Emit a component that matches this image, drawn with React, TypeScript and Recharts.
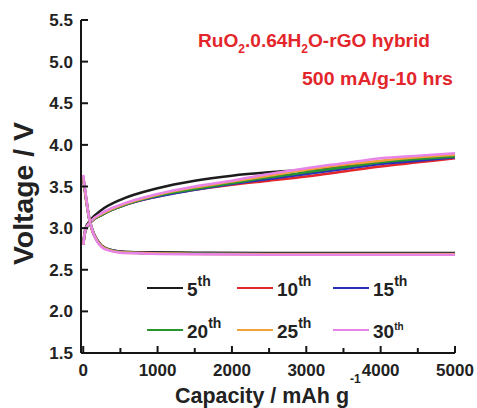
import React from "react";
import { LineChart, Line, XAxis, YAxis, Legend } from "recharts";

// capacity (mAh/g) sample points
const chargeCap = [0, 30, 100, 250, 500, 1000, 1500, 2000, 2500, 3000, 3500, 4000, 4500, 5000];
const dischargeCap = [0, 40, 80, 120, 180, 250, 350, 500, 800, 1500, 2500, 3500, 4500, 5000];

const cycleNames = ["5", "10", "15", "20", "25", "30"];
const cycleColors = ["#1c1c1c", "#e3262b", "#2a2fb8", "#27962e", "#f2a23a", "#e884e8"];

// charge voltages (V)
const charge5 = [2.82, 3.0, 3.1, 3.22, 3.34, 3.48, 3.57, 3.63, 3.67, 3.7, 3.74, 3.79, 3.83, 3.87];
const charge10 = [2.8, 2.97, 3.07, 3.16, 3.26, 3.38, 3.46, 3.52, 3.57, 3.62, 3.68, 3.74, 3.79, 3.84];
const charge15 = [2.8, 2.97, 3.07, 3.16, 3.26, 3.38, 3.46, 3.53, 3.59, 3.65, 3.71, 3.77, 3.81, 3.85];
const charge20 = [2.8, 2.97, 3.07, 3.16, 3.26, 3.39, 3.47, 3.54, 3.61, 3.67, 3.73, 3.79, 3.83, 3.86];
const charge25 = [2.8, 2.98, 3.08, 3.17, 3.27, 3.4, 3.49, 3.56, 3.63, 3.7, 3.76, 3.81, 3.85, 3.88];
const charge30 = [2.8, 2.98, 3.08, 3.18, 3.28, 3.41, 3.5, 3.57, 3.65, 3.72, 3.78, 3.84, 3.87, 3.9];

// discharge voltages (V)
const discharge5 = [3.62, 3.36, 3.13, 2.99, 2.87, 2.79, 2.745, 2.72, 2.71, 2.705, 2.7, 2.7, 2.7, 2.7];
const discharge10 = [3.6, 3.33, 3.11, 2.97, 2.86, 2.78, 2.74, 2.715, 2.7, 2.695, 2.69, 2.69, 2.69, 2.69];
const discharge15 = [3.6, 3.33, 3.11, 2.98, 2.86, 2.78, 2.74, 2.715, 2.7, 2.695, 2.69, 2.69, 2.69, 2.69];
const discharge20 = [3.61, 3.34, 3.12, 2.98, 2.86, 2.78, 2.74, 2.712, 2.7, 2.692, 2.688, 2.688, 2.688, 2.688];
const discharge25 = [3.61, 3.34, 3.12, 2.98, 2.86, 2.78, 2.735, 2.71, 2.7, 2.69, 2.685, 2.685, 2.685, 2.685];
const discharge30 = [3.64, 3.36, 3.12, 2.98, 2.85, 2.77, 2.73, 2.705, 2.695, 2.685, 2.68, 2.68, 2.68, 2.68];

const chargeV = [charge5, charge10, charge15, charge20, charge25, charge30];
const dischargeV = [discharge5, discharge10, discharge15, discharge20, discharge25, discharge30];

const xTicks = [0, 500, 1000, 1500, 2000, 2500, 3000, 3500, 4000, 4500, 5000];
const yTicks = [1.5, 2.0, 2.5, 3.0, 3.5, 4.0, 4.5, 5.0, 5.5];

const toPoints = (caps: number[], vs: number[]) => caps.map((cap, i) => ({ cap, v: vs[i] }));

const FONT = "'Liberation Sans', Arial, sans-serif";
const AXIS = "#151515";

const LeftTick = (props: any) => {
  const { x, y, payload } = props;
  return (
    <g>
      <line x1={x} x2={x + 7} y1={y} y2={y} stroke={AXIS} strokeWidth={2} />
      <text x={x - 8} y={y + 6} textAnchor="end" fontFamily={FONT} fontWeight="bold" fontSize={17} fill="#222">
        {Number(payload.value).toFixed(1)}
      </text>
    </g>
  );
};

const RightTick = (props: any) => {
  const { x, y } = props;
  return <line x1={x} x2={x - 7} y1={y} y2={y} stroke={AXIS} strokeWidth={2} />;
};

const BottomTick = (props: any) => {
  const { x, y, payload } = props;
  const major = payload.value % 1000 === 0;
  return (
    <g>
      <line x1={x} x2={x} y1={y} y2={y - (major ? 7 : 5)} stroke={AXIS} strokeWidth={2} />
      {major && (
        <text x={x} y={y + 23} textAnchor="middle" fontFamily={FONT} fontWeight="bold" fontSize={17} fill="#222">
          {payload.value}
        </text>
      )}
    </g>
  );
};

const TopTick = (props: any) => {
  const { x, y, payload } = props;
  const major = payload.value % 1000 === 0;
  return <line x1={x} x2={x} y1={y} y2={y + (major ? 7 : 5)} stroke={AXIS} strokeWidth={2} />;
};

const legendLeft = [147, 237, 333];
const legendTop = [288, 330];

const renderLegend = () => (
  <div style={{ position: "relative", width: 477, height: 408, pointerEvents: "none" }}>
    {cycleNames.map((name, i) => {
      const col = i % 3;
      const row = Math.floor(i / 3);
      const small = name === "30";
      return (
        <div
          key={name}
          style={{ position: "absolute", left: legendLeft[col], top: legendTop[row] - 14, height: 28, display: "flex", alignItems: "center", fontFamily: FONT, fontWeight: "bold", color: "#222" }}
        >
          <div style={{ width: 36, height: 2.5, background: cycleColors[i], marginRight: 4 }} />
          <span style={{ fontSize: 19, position: "relative", top: 2 }}>{name}</span>
          <span style={{ fontSize: small ? 10 : 14, position: "relative", top: small ? -4 : -7 }}>th</span>
        </div>
      );
    })}
  </div>
);

export default function App() {
  return (
    <div style={{ position: "absolute", left: 0, top: 0, width: 477, height: 408, background: "#fff" }}>
      <LineChart width={477} height={408} margin={{ top: 20, right: 22, bottom: 0, left: 0 }}>
        <XAxis
          xAxisId="b"
          type="number"
          dataKey="cap"
          domain={[-30, 5000]}
          ticks={xTicks}
          interval={0}
          height={55}
          tickSize={0}
          tickMargin={0}
          tickLine={false}
          axisLine={{ stroke: AXIS, strokeWidth: 2 }}
          tick={<BottomTick />}
          allowDataOverflow
        />
        <XAxis
          xAxisId="t"
          orientation="top"
          type="number"
          dataKey="cap"
          domain={[-30, 5000]}
          ticks={xTicks}
          interval={0}
          height={0}
          tickSize={0}
          tickMargin={0}
          tickLine={false}
          axisLine={{ stroke: AXIS, strokeWidth: 2 }}
          tick={<TopTick />}
          allowDataOverflow
        />
        <YAxis
          yAxisId="l"
          type="number"
          domain={[1.5, 5.5]}
          ticks={yTicks}
          interval={0}
          width={81}
          tickSize={0}
          tickMargin={0}
          tickLine={false}
          axisLine={{ stroke: AXIS, strokeWidth: 2 }}
          tick={<LeftTick />}
          allowDataOverflow
        />
        <YAxis
          yAxisId="r"
          orientation="right"
          type="number"
          domain={[1.5, 5.5]}
          ticks={yTicks}
          interval={0}
          width={0}
          tickSize={0}
          tickMargin={0}
          tickLine={false}
          axisLine={{ stroke: AXIS, strokeWidth: 2 }}
          tick={<RightTick />}
          allowDataOverflow
        />
        <Legend
          layout="horizontal"
          verticalAlign="middle"
          align="center"
          content={renderLegend}
          wrapperStyle={{ left: 0, top: 0, width: 477, height: 408 }}
        />
        {cycleNames.map((name, i) => (
          <Line
            key={"c" + name}
            xAxisId="b"
            yAxisId="l"
            data={toPoints(chargeCap, chargeV[i])}
            dataKey="v"
            name={name + "th"}
            type="monotone"
            stroke={cycleColors[i]}
            strokeWidth={2.5}
            dot={false}
            isAnimationActive={false}
          />
        ))}
        {cycleNames.map((name, i) => (
          <Line
            key={"d" + name}
            xAxisId="b"
            yAxisId="l"
            data={toPoints(dischargeCap, dischargeV[i])}
            dataKey="v"
            name={name + "th discharge"}
            legendType="none"
            type="monotone"
            stroke={cycleColors[i]}
            strokeWidth={2.5}
            dot={false}
            isAnimationActive={false}
          />
        ))}
      </LineChart>
      <svg width={477} height={408} style={{ position: "absolute", left: 0, top: 0, pointerEvents: "none" }}>
        <text
          transform="translate(33,193.5) rotate(-90)"
          textAnchor="middle"
          fontFamily={FONT}
          fontWeight="bold"
          fontSize={28}
          fill="#222"
          textLength={143}
          lengthAdjust="spacingAndGlyphs"
        >
          Voltage / V
        </text>
        <text x={175} y={403} fontFamily={FONT} fontWeight="bold" fontSize={22} fill="#222" textLength={174} lengthAdjust="spacingAndGlyphs">
          Capacity / mAh g
        </text>
        <text x={350} y={383} fontFamily={FONT} fontWeight="bold" fontSize={12} fill="#222">
          -1
        </text>
        <text x={198} y={47} fontFamily={FONT} fontWeight="bold" fontSize={19} fill="#e3262b" textLength={232} lengthAdjust="spacingAndGlyphs">
          RuO<tspan fontSize={12} dy={6}>2</tspan>
          <tspan dy={-6}>.0.64H</tspan>
          <tspan fontSize={12} dy={6}>2</tspan>
          <tspan dy={-6}>O-rGO hybrid</tspan>
        </text>
        <text x={302} y={85} fontFamily={FONT} fontWeight="bold" fontSize={19} fill="#e3262b" textLength={151} lengthAdjust="spacingAndGlyphs">
          500 mA/g-10 hrs
        </text>
      </svg>
    </div>
  );
}
